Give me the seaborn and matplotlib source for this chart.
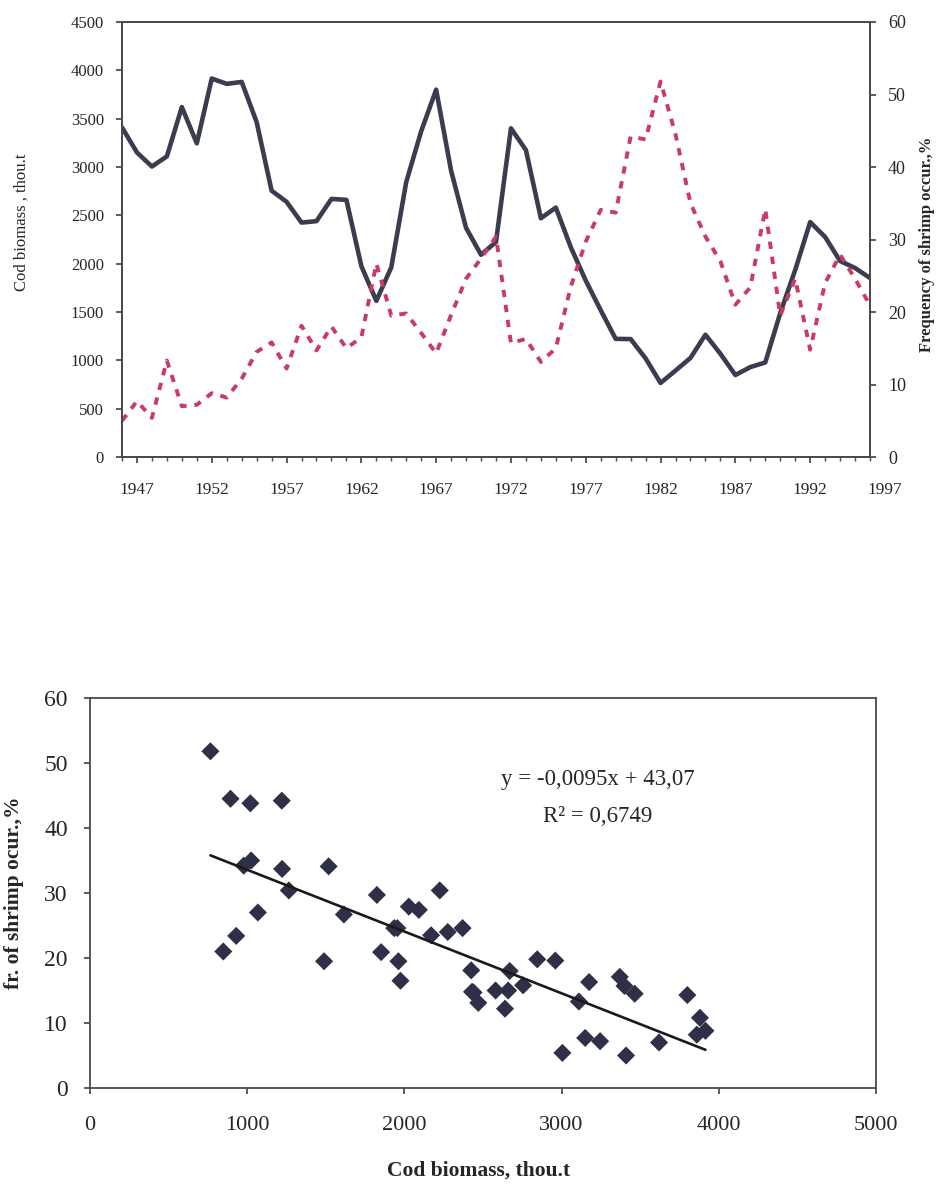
import numpy as np
import pandas as pd
import matplotlib
matplotlib.use("Agg")
import matplotlib.pyplot as plt
import seaborn as sns

# ---------------- data ----------------
years = list(range(1946, 1997))
cod_biomass = [3410, 3150, 3005, 3110, 3620, 3245, 3915, 3860, 3880, 3465,
               2755, 2640, 2425, 2440, 2670, 2660, 1975, 1615, 1962, 2845,
               3370, 3800, 2960, 2370, 2092, 2225, 3400, 3175, 2470, 2580,
               2170, 1825, 1518, 1222, 1220, 1020, 766, 894, 1025, 1265,
               1068, 848, 930, 978, 1489, 1935, 2430, 2276, 2028, 1955,
               1852]
shrimp_freq = [5.0, 7.7, 5.4, 13.3, 7.0, 7.2, 8.8, 8.2, 10.8, 14.5,
               15.8, 12.2, 18.1, 14.7, 18.0, 15.0, 16.5, 26.7, 19.5, 19.8,
               17.1, 14.3, 19.6, 24.6, 27.4, 30.4, 15.7, 16.3, 13.1, 15.0,
               23.5, 29.7, 34.1, 33.7, 44.2, 43.8, 51.8, 44.5, 35.0, 30.4,
               27.0, 21.0, 23.4, 34.2, 19.5, 24.6, 14.8, 24.0, 27.9, 24.6,
               20.9]
year_labels = ["1947", "1952", "1957", "1962", "1967", "1972", "1977",
               "1982", "1987", "1992", "1997"]
trend_slope = -0.0095
trend_intercept = 43.07
equation_text = "y = -0,0095x + 43,07"
r2_text = "R² = 0,6749"

df = pd.DataFrame({"year": years, "cod": cod_biomass, "shrimp": shrimp_freq})

# ---------------- style ----------------
sns.set_theme(style="ticks")
plt.rcParams["font.family"] = ["Liberation Serif", "DejaVu Serif"]
plt.rcParams["axes.edgecolor"] = "#4a4a4a"
plt.rcParams["axes.linewidth"] = 1.3

cod_color = "#3a3c50"
shrimp_color = "#c93b62"

W, H = 943, 1188
fig = plt.figure(figsize=(W / 100, H / 100), dpi=100)
fig.patch.set_facecolor("white")

# ---------------- top: time series ----------------
ax1 = fig.add_axes([122 / W, 1 - 457 / H, (870 - 122) / W, (457 - 22) / H])
sns.lineplot(data=df, x="year", y="cod", ax=ax1, color=cod_color, lw=3.3)
ax1.set_xlim(1946, 1996)
ax1.set_ylim(0, 4500)
ax1.set_yticks(np.arange(0, 4501, 500))
ax1.set_xticks([int(y) for y in year_labels[:-1]])
ax1.set_xticklabels(year_labels[:-1])
ax1.set_xticks(years, minor=True)
ax1.tick_params(axis="x", which="major", length=4, pad=14, labelsize=12.5,
                color="#4a4a4a")
ax1.tick_params(axis="x", which="minor", length=3, color="#4a4a4a")
ax1.tick_params(axis="y", length=4, pad=9, labelsize=12, color="#4a4a4a")
ax1.set_xlabel("")
ax1.set_ylabel("Cod biomass , thou.t", fontsize=12)
ax1.yaxis.set_label_coords(-0.124, 0.54)
ax1.annotate(year_labels[-1], xy=(1997, 0), xycoords=ax1.get_xaxis_transform(),
             xytext=(0, -18), textcoords="offset points", ha="center",
             va="top", fontsize=12.5, annotation_clip=False)

ax2 = ax1.twinx()
sns.lineplot(data=df, x="year", y="shrimp", ax=ax2, color=shrimp_color,
             lw=2.8, linestyle=(0, (1.9, 2.0)))
ax2.set_ylim(0, 60)
ax2.set_yticks(np.arange(0, 61, 10))
ax2.tick_params(axis="y", length=4, pad=9, labelsize=13, color="#4a4a4a")
ax2.set_ylabel("Frequency of shrimp occur.,%", fontsize=12, fontweight="bold",
               rotation=90)
ax2.yaxis.set_label_coords(1.066, 0.49)
for a in (ax1, ax2):
    for s in a.spines.values():
        s.set_color("#4a4a4a")
        s.set_linewidth(1.3)

# ---------------- bottom: scatter ----------------
ax3 = fig.add_axes([90 / W, 1 - 1088 / H, (876 - 90) / W, (1088 - 698) / H])
sns.scatterplot(data=df, x="cod", y="shrimp", ax=ax3, marker="D", s=85,
                color="#2e3048", edgecolor="none", linewidth=0)
xr = np.array([min(cod_biomass), max(cod_biomass)])
trend = pd.DataFrame({"x": xr, "y": trend_slope * xr + trend_intercept})
sns.lineplot(data=trend, x="x", y="y", ax=ax3, color="#1a1a1a", lw=1.9)
ax3.set_xlim(0, 5000)
ax3.set_ylim(0, 60)
ax3.set_xticks(np.arange(0, 5001, 1000))
ax3.set_yticks(np.arange(0, 61, 10))
ax3.tick_params(axis="x", length=4, pad=16, labelsize=16, color="#4a4a4a")
ax3.tick_params(axis="y", length=4, pad=12, labelsize=17, color="#4a4a4a")
ax3.set_xlabel("Cod biomass, thou.t", fontsize=15.5, fontweight="bold")
ax3.set_ylabel("fr. of shrimp ocur.,%", fontsize=15.5, fontweight="bold")
ax3.xaxis.set_label_coords(0.494, -0.185)
ax3.yaxis.set_label_coords(-0.084, 0.50)
ax3.text(3232, 47.4, equation_text, ha="center", va="center", fontsize=16.5)
ax3.text(3232, 41.7, r2_text, ha="center", va="center", fontsize=16.5)
for s in ax3.spines.values():
    s.set_color("#4a4a4a")
    s.set_linewidth(1.3)

fig.savefig("out.png", dpi=100, facecolor="white")
